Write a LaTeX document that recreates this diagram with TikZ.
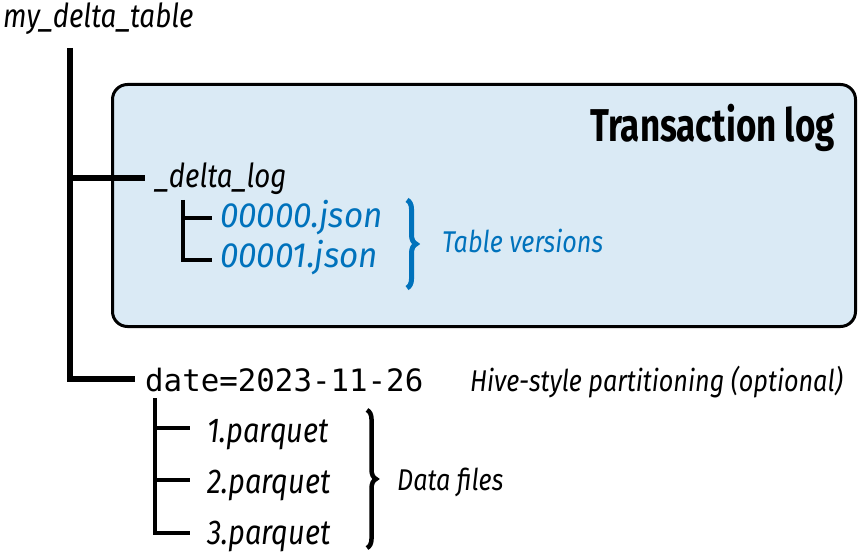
\documentclass[tikz,border=0pt]{standalone}
\usepackage{fontspec}
\usepackage{tikz}
\usetikzlibrary{calc}
\usetikzlibrary{decorations.pathreplacing}
\usetikzlibrary{positioning}
\newfontfamily\treefont{Fira Sans}[FakeStretch=0.84]
\newfontfamily\jsonfont{Fira Sans}[FakeStretch=0.95]
\newfontfamily\titlefont{Fira Sans}[FakeStretch=0.76]
\newfontfamily\codefont{DejaVu Sans Mono}
\definecolor{logblue}{RGB}{0,114,188}
\definecolor{logfill}{RGB}{218,234,245}
\tikzset{
    entry/.style={anchor=base west, inner sep=0, font=\treefont\itshape\fontsize{33}{34}\selectfont},
    fileentry/.style={entry, font=\treefont\itshape\fontsize{34.5}{36}\selectfont},
    jsonentry/.style={entry, text=logblue, font=\jsonfont\itshape\fontsize{35}{36}\selectfont},
    remark/.style={entry, font=\treefont\itshape\fontsize{30}{32}\selectfont},
    trunk/.style={line width=6pt},
    twig/.style={line width=4pt},
    bracket/.style={decorate, decoration={brace, amplitude=9pt}, line width=4.5pt}
}
\begin{document}
\begin{tikzpicture}[x=1pt, y=-1pt]
        \useasboundingbox (0,0) rectangle (859,553);
        \node[draw, line width=3pt, fill=logfill, rounded corners=15pt,
              minimum width=743pt, minimum height=242pt, inner sep=0]
            (txlog) at (484,205.5) {};
        \node[anchor=base east, inner sep=0, font=\titlefont\bfseries\fontsize{46}{48}\selectfont]
            (title) at (835,142) {Transaction log};
        \begin{scope}[every node/.style={entry}]
            \node (root)  at (3,28)    {my\_delta\_table};
            \node (dlog)  at (155,188) {\_delta\_log};
            \node[jsonentry] (v0) at (220,228) {00000.json};
            \node[jsonentry] (v1) at (220,268) {00001.json};
            \node[fileentry] (p1) at (207,442) {1.parquet};
            \node[fileentry] (p2) at (207,493) {2.parquet};
            \node[fileentry] (p3) at (207,544) {3.parquet};
            \node[remark, text=logblue] (versions) at (442,253) {Table versions};
            \node[remark] (datafiles) at (397,490) {Data files};
            \node[remark] (hive) at (470,391) {Hive-style partitioning (optional)};
        \end{scope}
        \node[anchor=base west, inner sep=0, font=\codefont\fontsize{30.8}{32}\selectfont]
            (part) at (145,391) {date=2023-11-26};
        \coordinate (t0) at (70,48);
        \coordinate (e0) at (145,178);
        \coordinate (e1) at (135,379);
        \coordinate (s0) at (183,200);
        \coordinate (s1) at (212,218);
        \coordinate (s2) at (212,260);
        \coordinate (d0) at (155,398);
        \coordinate (d1) at (190,428);
        \coordinate (d2) at (190,480);
        \coordinate (d3) at (190,533);
        \draw[trunk]
            (t0) |- (e1)
            (t0 |- e0) -- (e0);
        \draw[twig]
            (s0) |- (s2)
            (s0 |- s1) -- (s1);
        \draw[twig]
            (d0) |- (d3)
            (d0 |- d1) -- (d1)
            (d0 |- d2) -- (d2);
        \draw[bracket, logblue, line width=5pt] (407,200) -- (407,288);
        \draw[bracket] (367,410) -- (367,548);
    \end{tikzpicture}
\end{document}
